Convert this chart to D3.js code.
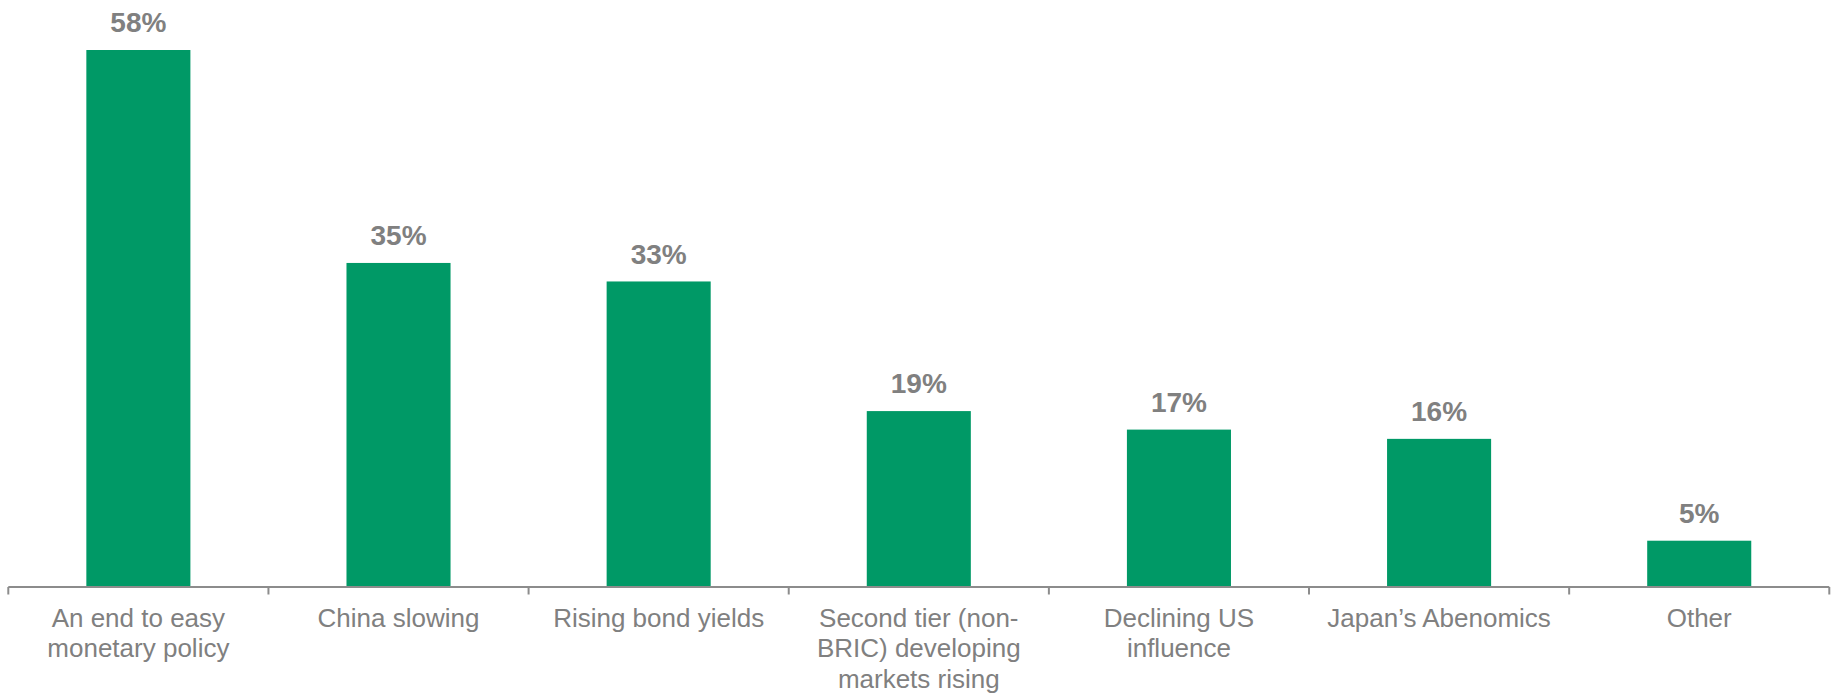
<!DOCTYPE html>
<html>
<head>
<meta charset="utf-8">
<script src="https://cdn.jsdelivr.net/npm/d3@7/dist/d3.min.js"></script>
<style>
  html, body { margin: 0; padding: 0; background: #ffffff; }
  svg { display: block; font-family: "Liberation Sans", Arial, sans-serif; }
</style>
</head>
<body>
<svg id="chart" width="1837" height="693"></svg>
<script>
// Survey results: share of respondents naming each factor
const categories = [
  "An end to easy\nmonetary policy",
  "China slowing",
  "Rising bond yields",
  "Second tier (non-\nBRIC) developing\nmarkets rising",
  "Declining US\ninfluence",
  "Japan\u2019s Abenomics",
  "Other"
];
const values = [58, 35, 33, 19, 17, 16, 5];
const valueLabels = ["58%", "35%", "33%", "19%", "17%", "16%", "5%"];

const svg = d3.select("#chart");
const axisY = 587;
const left = 8.3, right = 1829.3;

const x = d3.scaleBand()
  .domain(categories)
  .range([left, right])
  .paddingInner(0.6)
  .paddingOuter(0.3);

const y = d3.scaleLinear()
  .domain([0, d3.max(values)])
  .range([axisY, 50]);

const green = "#009966";
const grey = "#808080";

// bars
svg.append("g")
  .selectAll("rect")
  .data(values)
  .join("rect")
  .attr("x", (d, i) => x(categories[i]))
  .attr("y", d => y(d))
  .attr("width", x.bandwidth())
  .attr("height", d => axisY - y(d))
  .attr("fill", green);

// value labels above bars
svg.append("g")
  .selectAll("text")
  .data(values)
  .join("text")
  .attr("x", (d, i) => x(categories[i]) + x.bandwidth() / 2)
  .attr("y", d => y(d) - 17.7)
  .attr("text-anchor", "middle")
  .attr("font-size", "28px")
  .attr("font-weight", "bold")
  .attr("fill", grey)
  .text((d, i) => valueLabels[i]);

// category axis: baseline, boundary ticks, wrapped labels
const axis = svg.append("g");
axis.append("line")
  .attr("x1", left).attr("x2", right)
  .attr("y1", axisY).attr("y2", axisY)
  .attr("stroke", "#8c8c8c").attr("stroke-width", 2.2);

const step = x.step();
const bounds = d3.range(categories.length + 1).map(i => left + i * step);
axis.selectAll("line.tick")
  .data(bounds)
  .join("line")
  .attr("class", "tick")
  .attr("x1", d => d).attr("x2", d => d)
  .attr("y1", axisY).attr("y2", axisY + 7.5)
  .attr("stroke", "#8c8c8c").attr("stroke-width", 2);

const labels = axis.selectAll("text.cat")
  .data(categories)
  .join("text")
  .attr("class", "cat")
  .attr("x", d => x(d) + x.bandwidth() / 2)
  .attr("y", 626.5)
  .attr("text-anchor", "middle")
  .attr("font-size", "26px")
  .attr("fill", grey);

labels.each(function(d) {
  const t = d3.select(this);
  const cx = x(d) + x.bandwidth() / 2;
  d.split("\n").forEach((line, k) => {
    t.append("tspan")
      .attr("x", cx)
      .attr("dy", k === 0 ? 0 : 30.8)
      .text(line);
  });
});
</script>
</body>
</html>
